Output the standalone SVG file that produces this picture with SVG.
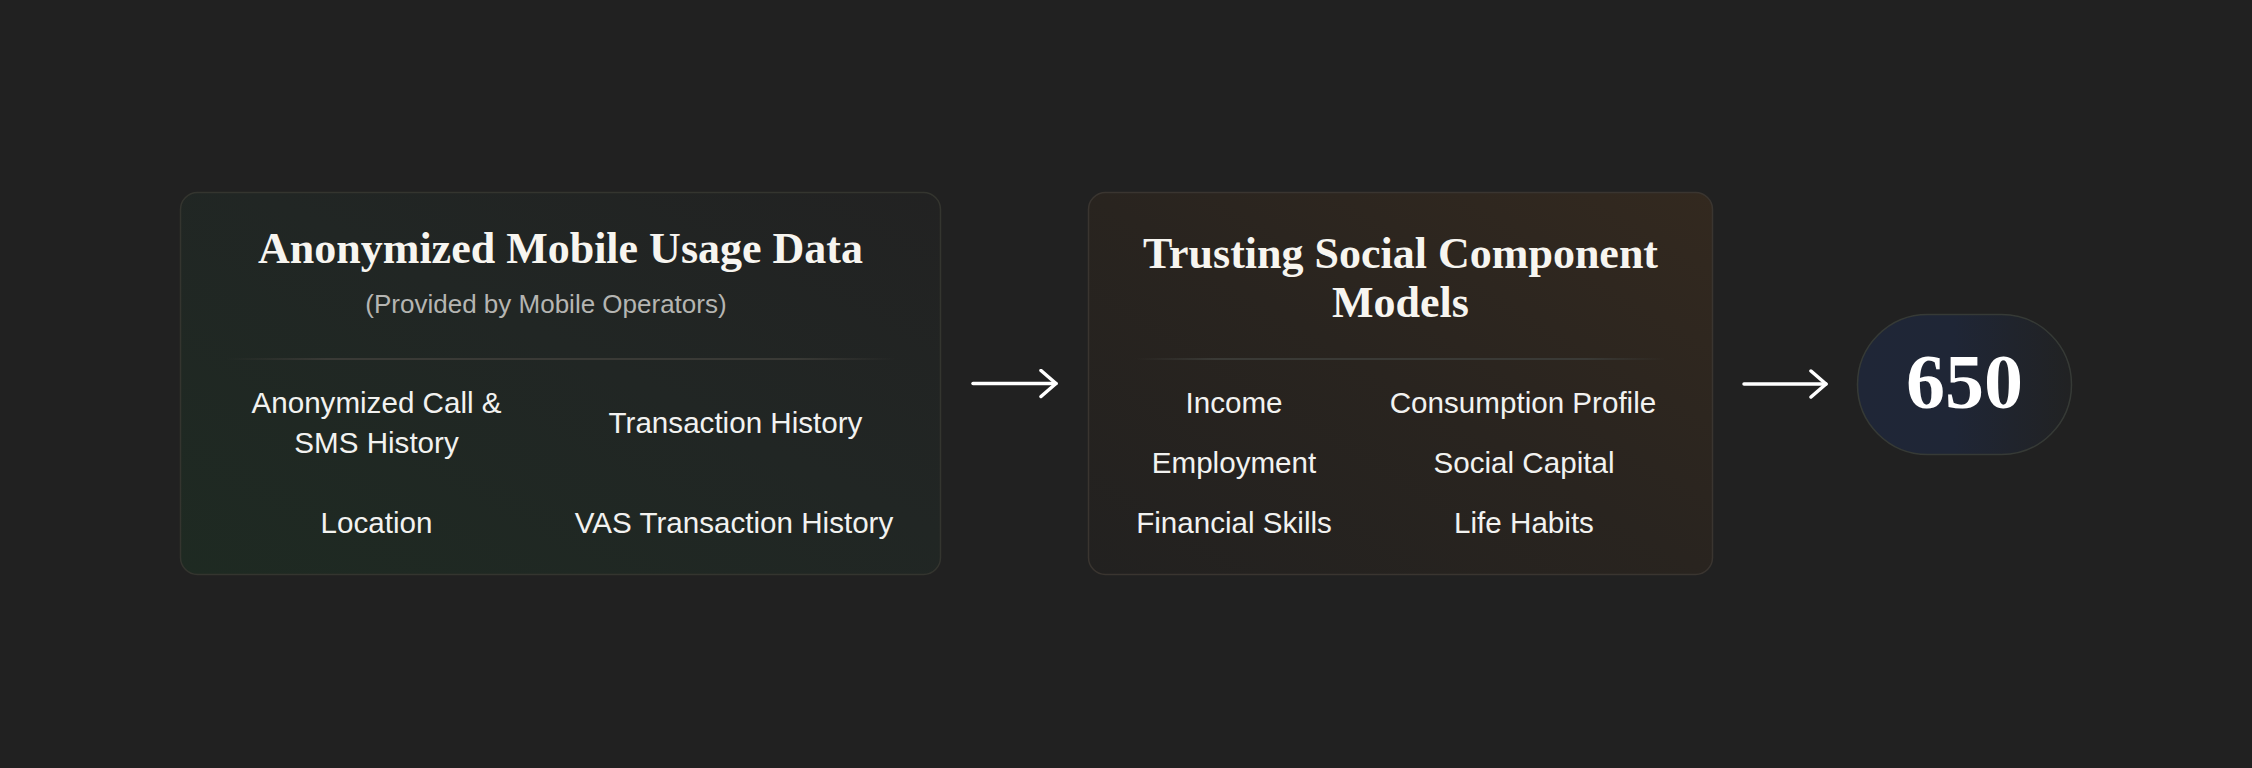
<svg xmlns="http://www.w3.org/2000/svg" width="2252" height="768" viewBox="0 0 2252 768">
  <defs>
    <linearGradient id="g1" x1="0" y1="1" x2="1" y2="0">
      <stop offset="0" stop-color="#1e2a22"/>
      <stop offset="0.55" stop-color="#212624"/>
      <stop offset="1" stop-color="#222222"/>
    </linearGradient>
    <linearGradient id="g2" x1="0" y1="1" x2="1" y2="0">
      <stop offset="0" stop-color="#222120"/>
      <stop offset="0.5" stop-color="#29241f"/>
      <stop offset="1" stop-color="#33291f"/>
    </linearGradient>
    <linearGradient id="g3" x1="0" y1="0" x2="1" y2="0">
      <stop offset="0" stop-color="#1f2637"/>
      <stop offset="0.45" stop-color="#1f2636"/>
      <stop offset="1" stop-color="#212223"/>
    </linearGradient>
    <linearGradient id="div" x1="0" y1="0" x2="1" y2="0">
      <stop offset="0" stop-color="#3a3a36" stop-opacity="0"/>
      <stop offset="0.15" stop-color="#3a3a36" stop-opacity="1"/>
      <stop offset="0.85" stop-color="#3a3a36" stop-opacity="1"/>
      <stop offset="1" stop-color="#3a3a36" stop-opacity="0"/>
    </linearGradient>
    <marker id="chev" viewBox="0 0 20 30" refX="17" refY="15" markerWidth="20" markerHeight="30" markerUnits="userSpaceOnUse" orient="auto">
      <path d="M2,2 L17,15 L2,28" fill="none" stroke="#ffffff" stroke-width="3.5" stroke-linecap="round" stroke-linejoin="round"/>
    </marker>
  </defs>
  <style>
    .title { font-family: "Liberation Serif", "DejaVu Serif", serif; font-weight: bold; font-size: 44px; fill: #f7f5f0; text-anchor: middle; }
    .sub { font-family: "Liberation Sans", Arial, sans-serif; font-size: 26px; fill: #b5b5b2; text-anchor: middle; }
    .item { font-family: "Liberation Sans", Arial, sans-serif; font-size: 29.6px; fill: #f2f2f0; text-anchor: middle; }
    .score { font-family: "Liberation Serif", "DejaVu Serif", serif; font-weight: bold; font-size: 78px; fill: #ffffff; text-anchor: middle; }
    .edge { fill: none; stroke: #ffffff; stroke-width: 3.5; stroke-linecap: round; }
  </style>
  <rect width="2252" height="768" fill="#212121"/>

  <g id="node-mobile-data">
    <rect x="180.5" y="192.5" width="760" height="382" rx="17" fill="url(#g1)" stroke="#34352f" stroke-width="1.5"/>
    <text class="title" x="560.5" y="263">Anonymized Mobile Usage Data</text>
    <text class="sub" x="546" y="313">(Provided by Mobile Operators)</text>
    <rect x="226" y="358" width="670" height="2" fill="url(#div)"/>
    <text class="item" x="376.5" y="413">Anonymized Call &amp;</text>
    <text class="item" x="376.5" y="453">SMS History</text>
    <text class="item" x="735.5" y="433">Transaction History</text>
    <text class="item" x="376.5" y="533">Location</text>
    <text class="item" x="734" y="533">VAS Transaction History</text>
  </g>

  <g id="node-component-models">
    <rect x="1088.5" y="192.5" width="624" height="382" rx="17" fill="url(#g2)" stroke="#3a3530" stroke-width="1.5"/>
    <text class="title" x="1400.5" y="268">Trusting Social Component</text>
    <text class="title" x="1400.5" y="317">Models</text>
    <rect x="1135" y="358" width="531" height="2" fill="url(#div)"/>
    <text class="item" x="1234" y="413">Income</text>
    <text class="item" x="1523" y="413">Consumption Profile</text>
    <text class="item" x="1234" y="473">Employment</text>
    <text class="item" x="1524" y="473">Social Capital</text>
    <text class="item" x="1234" y="533">Financial Skills</text>
    <text class="item" x="1524" y="533">Life Habits</text>
  </g>

  <g id="node-score">
    <rect x="1857.5" y="314.5" width="214" height="140" rx="70" fill="url(#g3)" stroke="#363a36" stroke-width="1.5"/>
    <text class="score" x="1964.5" y="408">650</text>
  </g>

  <g id="connectors">
    <line class="edge" x1="973" y1="383.5" x2="1056" y2="383.5" marker-end="url(#chev)"/>
    <line class="edge" x1="1744" y1="384" x2="1826" y2="384" marker-end="url(#chev)"/>
  </g>
</svg>
